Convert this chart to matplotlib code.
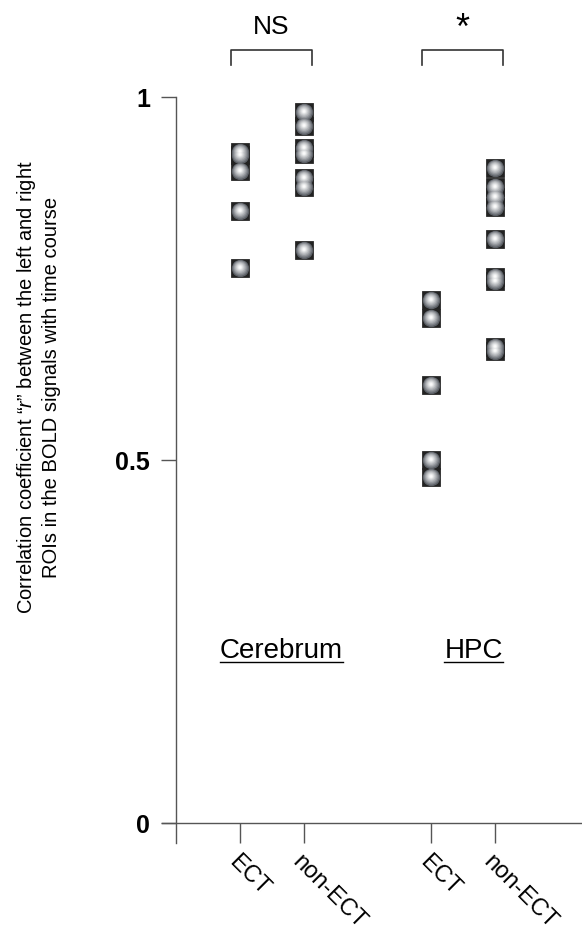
import matplotlib
matplotlib.use("Agg")
import matplotlib.pyplot as plt
from matplotlib.markers import MarkerStyle
from matplotlib.transforms import ScaledTranslation, Affine2D

# values
positions = [1, 2, 4, 5]
tick_labels = ["ECT", "non-ECT", "ECT", "non-ECT"]
cerebrum_ect = [0.924, 0.920, 0.898, 0.843, 0.764]
cerebrum_non_ect = [0.979, 0.960, 0.930, 0.921, 0.888, 0.876, 0.789]
hpc_ect = [0.720, 0.696, 0.603, 0.500, 0.477]
hpc_non_ect = [0.902, 0.876, 0.862, 0.848, 0.804, 0.752, 0.747, 0.656, 0.650]
groups = [cerebrum_ect, cerebrum_non_ect, hpc_ect, hpc_non_ect]
region_names = ["Cerebrum", "HPC"]
region_centres = [1.65, 4.67]
signif = ["NS", "*"]

plt.rcParams["font.family"] = ["Liberation Sans", "DejaVu Sans"]
plt.rcParams["mathtext.fontset"] = "custom"
plt.rcParams["mathtext.it"] = "Liberation Sans:italic"

fig = plt.figure(figsize=(5.82, 9.35), dpi=100)
ax = fig.add_axes([162 / 582, 1 - 843 / 935, 420 / 582, 746 / 935])
ax.set_xlim(-0.224, 6.37)
ax.set_ylim(-0.0275, 1.0)

axis_col = "#555555"
for s in ["top", "right"]:
    ax.spines[s].set_visible(False)
ax.spines["left"].set_position(("data", 0))
ax.spines["bottom"].set_position(("data", 0))
for s in ["left", "bottom"]:
    ax.spines[s].set_color(axis_col)
    ax.spines[s].set_linewidth(1.0)

ax.set_yticks([0, 0.5, 1])
ax.set_yticklabels(["0", "0.5", "1"], fontsize=18, fontweight="bold")
ax.tick_params(axis="y", length=10.8, width=1.0, color=axis_col, pad=8)
ax.set_xticks(positions)
ax.set_xticklabels(tick_labels, fontsize=17, rotation=-45, rotation_mode="anchor",
                   ha="left", va="center")
ax.tick_params(axis="x", length=14.4, width=1.0, color=axis_col, pad=11)
for lab in ax.get_xticklabels():
    lab.set_transform(lab.get_transform() + ScaledTranslation(-8 / 100, 0, fig.dpi_scale_trans))

# metallic looking rounded squares: dark rounded box + shaded sphere on top
shades = [(12.5, "#5c6066", 0.0), (11.0, "#7a7e84", 0.03), (9.5, "#95989d", 0.06),
          (8.0, "#adb0b4", 0.09), (6.5, "#c3c5c8", 0.13), (5.0, "#d7d9db", 0.18),
          (3.5, "#ebeced", 0.26), (2.0, "#fafafa", 0.4)]
for x, vals in zip(positions, groups):
    xs = [x] * len(vals)
    ax.plot(xs, vals, ls="none", marker="s", ms=11.5, mfc="#34373b", mec="#222222",
            mew=2.0, zorder=3, clip_on=False)
    for ms, c, dy in shades:
        m = MarkerStyle("o", transform=Affine2D().translate(-dy * 0.4, dy))
        ax.plot(xs, vals, ls="none", marker=m, ms=ms, mfc=c, mec="none", zorder=4, clip_on=False)

# significance brackets
for i, txt in enumerate(signif):
    a, b = positions[2 * i] - 0.14, positions[2 * i + 1] + 0.13
    ax.plot([a, a, b, b], [1.044, 1.065, 1.065, 1.044], color="#333333", lw=1.2, clip_on=False)
    if txt == "NS":
        ax.text((a + b) / 2, 1.087, txt, ha="center", va="baseline", fontsize=19, clip_on=False)
    else:
        ax.text((a + b) / 2, 1.080, txt, ha="center", va="baseline", fontsize=26, clip_on=False)

# region names, underlined
fig.canvas.draw()
rend = fig.canvas.get_renderer()
for name, xc in zip(region_names, region_centres):
    t = ax.text(xc, 0.227, name, ha="center", va="baseline", fontsize=20)
    bb = t.get_window_extent(rend)
    inv = ax.transData.inverted()
    (x0, _), (x1, _) = inv.transform([(bb.x0, 0), (bb.x1, 0)])
    ax.plot([x0, x1], [0.222, 0.222], color="black", lw=1.0)

fig.text(38 / 582, 1 - 387 / 935,
         "Correlation coefficient \u201c$r$\u201d between the left and right\n"
         "ROIs in the BOLD signals with time course",
         rotation=90, ha="center", va="center", fontsize=14.5, linespacing=1.3)

fig.savefig("out.png", dpi=100)
